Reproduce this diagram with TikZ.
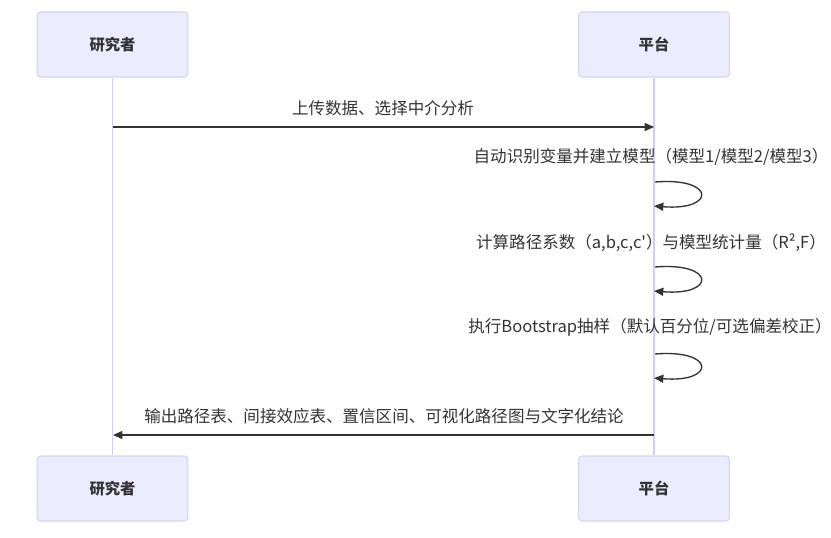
\documentclass[tikz,border=0pt]{standalone}
\usepackage{fontspec}
\setmainfont{Noto Sans CJK SC}
\usepackage{xcolor}
\usepackage{tikz}
\usetikzlibrary{arrows.meta,calc}
\definecolor{boxfill}{HTML}{ECECFF}
\definecolor{boxline}{HTML}{D4D4F4}
\definecolor{life}{HTML}{CFCFF2}
\definecolor{ink}{HTML}{333333}
\tikzset{
  actor/.style={draw=boxline,fill=boxfill,line width=.8pt,rounded corners=2.5pt,
    minimum width=113pt,minimum height=48.75pt,inner sep=0pt,
    font=\fontsize{11.5}{13}\selectfont\bfseries,text=ink},
  lifeline/.style={draw=life,line width=.9pt},
  msg/.style={draw=ink,line width=1pt,-{Triangle[length=7pt,width=6pt]}},
  msgtext/.style={font=\fontsize{12.4}{14}\selectfont,text=ink,inner sep=0pt}
}
\begin{document}
\begin{tikzpicture}[x=.75pt,y=-.75pt]
  \useasboundingbox (0,0) rectangle (831,537);
  % actors
  \node[actor] (resTop) at (112.5,44.5) {研究者};
  \node[actor] (platTop) at (654,44.5) {平台};
  \node[actor] (resBot) at (112.5,488.5) {研究者};
  \node[actor] (platBot) at (654,488.5) {平台};
  \draw[lifeline] (resTop) -- (resBot);
  \draw[lifeline] (platTop) -- (platBot);
  % upload
  \coordinate (upA) at (113,127);
  \coordinate (upB) at (654,127);
  \draw[msg] (upA) -- (upB);
  \node[msgtext] (upTxt) at (383,108) {上传数据、选择中介分析};
  % self calls
  \coordinate (s1a) at (655,182); \coordinate (s1b) at (654,206);
  \draw[msg] (s1a) .. controls (716,177) and (716,211) .. (s1b);
  \node[msgtext] (s1Txt) at (651,157) {自动识别变量并建立模型（模型1/模型2/模型3）};
  \coordinate (s2a) at (655,267); \coordinate (s2b) at (654,291);
  \draw[msg] (s2a) .. controls (716,262) and (716,296) .. (s2b);
  \node[msgtext] (s2Txt) at (651,243) {计算路径系数（a,b,c,c\textquotesingle）与模型统计量（R²,F）};
  \coordinate (s3a) at (655,354); \coordinate (s3b) at (654,378);
  \draw[msg] (s3a) .. controls (716,349) and (716,383) .. (s3b);
  \node[msgtext] (s3Txt) at (650,327) {执行Bootstrap抽样（默认百分位/可选偏差校正）};
  % output
  \coordinate (outA) at (654,435);
  \coordinate (outB) at (113,435);
  \draw[msg] (outA) -- (outB);
  \node[msgtext] (outTxt) at (384,416) {输出路径表、间接效应表、置信区间、可视化路径图与文字化结论};
\end{tikzpicture}
\end{document}
